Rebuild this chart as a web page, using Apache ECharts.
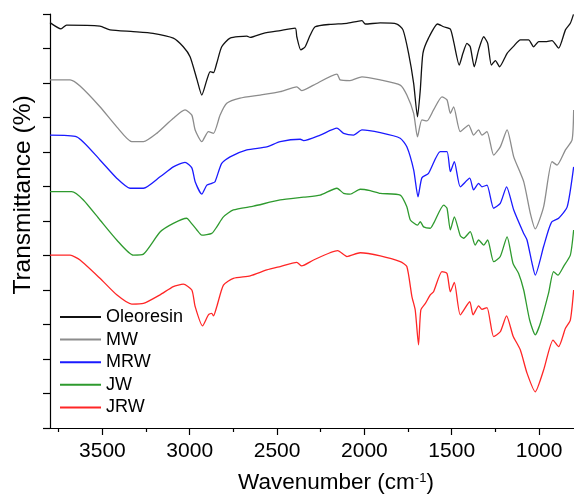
<!DOCTYPE html>
<html>
<head>
<meta charset="utf-8">
<script src="https://cdn.jsdelivr.net/npm/echarts@6/dist/echarts.min.js"></script>
<style>
  html, body { margin: 0; padding: 0; background: #fff; }
  #chart { width: 574px; height: 495px; }
</style>
</head>
<body>
<div id="chart"></div>
<script>
// FTIR spectra, offset stacked; y in tick units (axis has no labels)
const seriesNames = ["Oleoresin", "MW", "MRW", "JW", "JRW"];
const seriesColors = ["#111111", "#8c8c8c", "#1a1aff", "#2e9a2e", "#ff2626"];

const majorTicks = [3500, 3000, 2500, 2000, 1500, 1000];
const minorTicks = [3750, 3250, 2750, 2250, 1750, 1250];

// [wavenumber, transmittance]
const oleoresin = [
    [3800, 11.75], [3737, 11.57], [3705, 11.68], [3514, 11.65], [3456, 11.54], [3324, 11.49],
    [3210, 11.44], [3094, 11.30], [3037, 11.05], [2998, 10.76], [2958, 10.09], [2931, 9.65],
    [2902, 10.09], [2883, 10.33], [2864, 10.30], [2845, 10.58], [2817, 11.05], [2769, 11.30],
    [2673, 11.36], [2654, 11.32], [2578, 11.44], [2482, 11.52], [2396, 11.59], [2387, 11.34],
    [2364, 10.96], [2339, 11.05], [2310, 11.39], [2282, 11.63], [2196, 11.70], [2100, 11.73],
    [2014, 11.81], [1995, 11.71], [1909, 11.74], [1814, 11.71], [1779, 11.54], [1747, 10.86],
    [1718, 9.99], [1696, 9.02], [1680, 9.80], [1665, 10.86], [1633, 11.30], [1581, 11.71],
    [1546, 11.63], [1508, 11.56], [1489, 11.20], [1457, 10.52], [1436, 10.86], [1413, 11.15],
    [1394, 11.05], [1371, 10.47], [1346, 10.96], [1317, 11.34], [1294, 11.15], [1273, 10.52],
    [1250, 10.65], [1226, 10.47], [1183, 10.86], [1145, 11.07], [1107, 11.25], [1060, 11.25],
    [1031, 11.05], [1002, 11.20], [964, 11.20], [926, 11.23], [888, 11.01], [849, 11.54],
    [821, 11.73], [803, 11.99]
];
const mw = [
    [3800, 10.09], [3685, 10.09], [3628, 9.91], [3514, 9.31], [3418, 8.73], [3332, 8.30],
    [3265, 8.30], [3189, 8.54], [3094, 8.98], [3027, 9.22], [2988, 9.07], [2969, 8.64],
    [2931, 8.30], [2893, 8.59], [2864, 8.54], [2826, 9.07], [2788, 9.41], [2712, 9.56],
    [2597, 9.65], [2482, 9.75], [2387, 9.89], [2359, 9.78], [2291, 9.94], [2157, 10.26],
    [2139, 10.09], [2082, 10.07], [2014, 10.18], [1909, 10.09], [1795, 9.94], [1757, 9.65],
    [1718, 9.12], [1696, 8.44], [1671, 8.93], [1642, 8.90], [1604, 9.22], [1556, 9.60],
    [1527, 9.51], [1508, 9.12], [1489, 9.31], [1451, 8.59], [1403, 8.78], [1375, 8.49],
    [1346, 8.64], [1327, 8.49], [1298, 8.59], [1260, 7.91], [1222, 8.15], [1183, 8.64],
    [1145, 7.86], [1088, 7.14], [1050, 6.22], [1022, 5.77], [974, 6.41], [926, 7.72],
    [897, 7.62], [849, 8.06], [811, 8.35], [802, 9.22]
];
const mrw = [
    [3800, 8.49], [3647, 8.44], [3514, 7.77], [3418, 7.24], [3342, 6.95], [3265, 6.95],
    [3170, 7.28], [3094, 7.57], [3027, 7.70], [2988, 7.54], [2969, 7.14], [2931, 6.78],
    [2902, 7.04], [2874, 7.09], [2855, 7.14], [2817, 7.67], [2769, 7.86], [2673, 8.06],
    [2559, 8.15], [2482, 8.30], [2367, 8.37], [2348, 8.33], [2253, 8.49], [2157, 8.69],
    [2119, 8.54], [2062, 8.49], [2014, 8.64], [1909, 8.56], [1795, 8.40], [1757, 8.15],
    [1718, 7.48], [1693, 6.70], [1671, 7.25], [1633, 7.38], [1566, 8.01], [1527, 8.01],
    [1508, 7.43], [1485, 7.72], [1451, 6.99], [1397, 7.24], [1375, 6.90], [1346, 7.09],
    [1327, 6.99], [1298, 7.04], [1260, 6.37], [1222, 6.51], [1186, 6.99], [1145, 6.32],
    [1088, 5.64], [1069, 5.45], [1040, 4.77], [1022, 4.43], [974, 5.26], [946, 5.74],
    [926, 5.98], [888, 6.08], [839, 6.41], [802, 7.57]
];
const jw = [
    [3800, 6.85], [3676, 6.85], [3609, 6.61], [3514, 6.03], [3418, 5.45], [3323, 5.01],
    [3265, 5.04], [3170, 5.68], [3094, 5.93], [3017, 6.08], [2998, 5.98], [2959, 5.74],
    [2931, 5.59], [2874, 5.64], [2845, 5.83], [2807, 6.12], [2750, 6.32], [2635, 6.43],
    [2482, 6.61], [2348, 6.69], [2253, 6.75], [2157, 6.95], [2119, 6.80], [2082, 6.78],
    [2024, 6.92], [1967, 6.88], [1909, 6.80], [1795, 6.75], [1757, 6.41], [1737, 6.03],
    [1696, 5.88], [1680, 5.98], [1661, 5.83], [1623, 5.79], [1604, 5.93], [1546, 6.46],
    [1527, 6.37], [1508, 5.74], [1485, 6.12], [1451, 5.57], [1432, 5.50], [1394, 5.69],
    [1366, 5.30], [1346, 5.45], [1317, 5.30], [1294, 5.45], [1260, 4.82], [1222, 4.97],
    [1183, 5.54], [1149, 4.77], [1117, 4.48], [1088, 4.00], [1054, 3.13], [1022, 2.70],
    [993, 3.03], [946, 3.90], [917, 4.53], [892, 4.43], [860, 4.68], [821, 5.01], [802, 5.74]
];
const jrw = [
    [3800, 5.01], [3685, 5.01], [3628, 4.87], [3514, 4.34], [3418, 3.86], [3332, 3.59],
    [3265, 3.61], [3170, 3.86], [3094, 4.10], [3037, 4.17], [2988, 4.00], [2969, 3.52],
    [2927, 2.96], [2893, 3.28], [2874, 3.32], [2864, 3.25], [2845, 3.52], [2807, 4.14],
    [2750, 4.34], [2654, 4.41], [2559, 4.58], [2482, 4.68], [2387, 4.80], [2359, 4.70],
    [2291, 4.87], [2153, 5.14], [2100, 4.97], [2024, 5.08], [1909, 4.99], [1795, 4.82],
    [1757, 4.68], [1728, 3.81], [1709, 3.42], [1690, 2.41], [1677, 3.42], [1651, 3.61],
    [1623, 3.86], [1604, 3.95], [1556, 4.53], [1527, 4.48], [1508, 3.95], [1485, 4.22],
    [1451, 3.28], [1397, 3.66], [1378, 3.28], [1346, 3.54], [1327, 3.44], [1298, 3.49],
    [1260, 2.65], [1222, 2.79], [1186, 3.25], [1149, 2.67], [1107, 2.26], [1069, 1.59],
    [1022, 1.05], [974, 1.68], [920, 2.55], [888, 2.36], [849, 2.89], [821, 3.13], [802, 4.00]
];

const spectra = [oleoresin, mw, mrw, jw, jrw];
const FONT = "Arial, 'Liberation Sans', sans-serif";

const chart = echarts.init(document.getElementById("chart"));

const baseX = {
    type: "value",
    min: 800,
    max: 3800,
    inverse: true,
    position: "bottom",
    offset: 0,
    splitLine: { show: false }
};

chart.setOption({
    animation: false,
    backgroundColor: "#fff",
    grid: { left: 50, right: 0, top: 14, bottom: 67, containLabel: false },
    legend: {
        orient: "vertical",
        left: 59,
        top: 308,
        padding: 0,
        itemWidth: 41,
        itemHeight: 14,
        itemGap: 4.6,
        itemStyle: { opacity: 0 },
        textStyle: { fontFamily: FONT, fontSize: 18, color: "#000" },
        data: seriesNames
    },
    xAxis: [
        Object.assign({}, baseX, {
            axisLine: { lineStyle: { color: "#000", width: 1.2 } },
            axisTick: { customValues: majorTicks, length: 7, lineStyle: { color: "#000", width: 1.2 } },
            axisLabel: {
                customValues: majorTicks,
                formatter: v => String(v),
                fontFamily: FONT, fontSize: 21, color: "#000", margin: 13
            }
        }),
        Object.assign({}, baseX, {
            axisLine: { show: false },
            axisTick: { customValues: minorTicks, length: 4, lineStyle: { color: "#000", width: 1.2 } },
            axisLabel: { show: false }
        })
    ],
    yAxis: {
        type: "value",
        min: 0,
        max: 12,
        interval: 1,
        axisLine: { show: true, lineStyle: { color: "#000", width: 1.2 } },
        axisTick: { show: true, length: 7, lineStyle: { color: "#000", width: 1.2 } },
        axisLabel: { show: false },
        splitLine: { show: false }
    },
    graphic: [
        {
            type: "text",
            x: 336,
            y: 483,
            style: {
                text: "{a|Wavenumber (cm}{s|-1}{a|)}",
                align: "center",
                verticalAlign: "middle",
                rich: {
                    a: { fontFamily: FONT, fontSize: 22.5, fill: "#000", verticalAlign: "bottom" },
                    s: { fontFamily: FONT, fontSize: 13, fill: "#000", verticalAlign: "top" }
                }
            }
        },
        {
            type: "text",
            x: 23,
            y: 195,
            rotation: Math.PI / 2,
            style: {
                text: "Transmittance (%)",
                fontFamily: FONT,
                fontSize: 24.5,
                fill: "#000",
                align: "center",
                verticalAlign: "middle"
            }
        }
    ],
    series: seriesNames.map((name, i) => ({
        name: name,
        type: "line",
        xAxisIndex: 0,
        data: spectra[i],
        showSymbol: false,
        symbol: "none",
        smooth: 0.2,
        color: seriesColors[i],
        lineStyle: { color: seriesColors[i], width: 1.3 }
    }))
});
</script>
</body>
</html>
